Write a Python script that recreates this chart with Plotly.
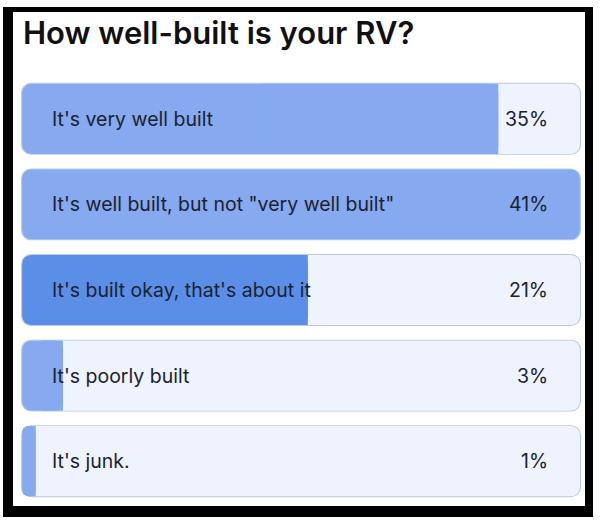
import plotly.graph_objects as go

# poll answers, top to bottom
options = [
    "It's very well built",
    'It\'s well built, but not "very well built"',
    "It's built okay, that's about it",
    "It's poorly built",
    "It's junk.",
]
shares = [35, 41, 21, 3, 1]
share_labels = ["35%", "41%", "21%", "3%", "1%"]

# styling
fill_colors = ["#86a9ef", "#86a9ef", "#5b8ee6", "#86a9ef", "#86a9ef"]
TRACK_BG = "#eef3fd"
TRACK_LINE = "#b9c9e6"
TEXT = "#1c2230"
FONT = "Inter"

W, H = 600, 520
M = dict(l=21, r=19, t=76, b=16)
TOP = max(shares)
PAD = 0.08  # ~1px border, in data units
BAR_W = 0.82
RADIUS = 9


def px_x(px):
    return (px - M["l"]) / (W - M["l"] - M["r"])


def px_y(py):
    return (H - M["b"] - py) / (H - M["t"] - M["b"])


def bar(lo, hi, color, width, radius, name):
    return go.Bar(
        y=options, base=lo, x=[b - a if b is not None else None for a, b in zip(lo, hi)],
        orientation="h", width=width, name=name,
        marker=dict(color=color, cornerradius=radius, line_width=0),
        hoverinfo="skip",
    )


n = len(options)
fig = go.Figure()

# border + track
fig.add_trace(bar([-PAD] * n, [TOP + PAD] * n, TRACK_LINE, BAR_W + 0.02, RADIUS + 1, "border"))
fig.add_trace(bar([0] * n, [TOP] * n, TRACK_BG, BAR_W, RADIUS, "track"))

# filled part: rounded all round, then the right end squared off
# unless the bar reaches the top value
fig.add_trace(bar([0] * n, shares, fill_colors, BAR_W, RADIUS, "fill"))
fig.add_trace(bar(
    [v / 2 for v in shares],
    [None if v == TOP else v for v in shares],
    fill_colors, BAR_W, 0, "fill_end",
))

annotations = [
    dict(
        text="How well-built is your RV?", xref="paper", yref="paper",
        x=px_x(21), y=px_y(32), xanchor="left", yanchor="middle",
        showarrow=False, font=dict(family=FONT, size=31, color="#111111", weight=600),
    )
]
for opt, lab in zip(options, share_labels):
    annotations.append(dict(
        text=opt, x=0, y=opt, xref="x", yref="y", xanchor="left", xshift=28,
        showarrow=False, font=dict(family=FONT, size=19.5, color=TEXT),
    ))
    annotations.append(dict(
        text=lab, x=TOP, y=opt, xref="x", yref="y", xanchor="right", xshift=-30,
        showarrow=False, font=dict(family=FONT, size=19.5, color=TEXT),
    ))

shapes = [
    # black photo frame around the card
    dict(type="rect", xref="paper", yref="paper", layer="below",
         x0=px_x(3), x1=px_x(593), y0=px_y(517), y1=px_y(7),
         fillcolor="black", line_width=0),
    dict(type="rect", xref="paper", yref="paper", layer="below",
         x0=px_x(13), x1=px_x(585), y0=px_y(506), y1=px_y(12),
         fillcolor="white", line_width=0),
]

fig.update_layout(
    width=W, height=H, margin=M,
    barmode="overlay", showlegend=False,
    paper_bgcolor="white", plot_bgcolor="rgba(0,0,0,0)",
    xaxis=dict(visible=False, range=[-PAD, TOP + PAD], fixedrange=True),
    yaxis=dict(visible=False, type="category", autorange="reversed", fixedrange=True),
    annotations=annotations, shapes=shapes,
)

# drop the browser's default 8px body margin so the figure sits at the corner
fig.write_html(
    "out.html",
    config={"displayModeBar": False},
    post_script="document.body.style.margin='0';",
)
